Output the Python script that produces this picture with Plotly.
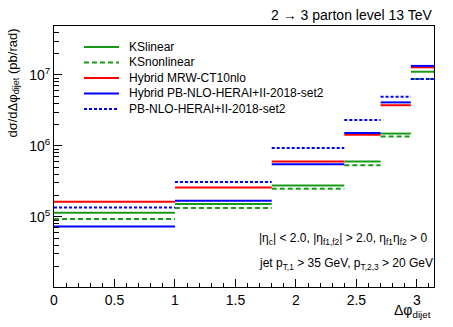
import plotly.graph_objects as go

# ---- data ----
bin_edges = [0.0, 1.0, 1.8, 2.4, 2.7, 2.95, 3.14159265]
series_names = ["KSlinear", "KSnonlinear", "Hybrid MRW-CT10nlo",
                "Hybrid PB-NLO-HERAI+II-2018-set2", "PB-NLO-HERAI+II-2018-set2"]
ks_linear = [1.14e5, 1.51e5, 2.76e5, 6.0e5, 1.49e6, 1.11e7]
ks_nonlinear = [9.3e4, 1.33e5, 2.48e5, 5.35e5, 1.35e6, 8.8e6]
hybrid_mrw = [1.63e5, 2.59e5, 6.0e5, 1.44e6, 3.74e6, 1.28e7]
hybrid_pb = [7.3e4, 1.68e5, 5.5e5, 1.52e6, 4.1e6, 1.34e7]
pb_nlo = [1.35e5, 3.1e5, 9.3e5, 2.32e6, 4.94e6, 8.8e6]
y_major_ticks = [1e5, 1e6, 1e7]
y_major_labels = ["10<sup>5</sup>", "10<sup>6</sup>", "10<sup>7</sup>"]
x_ticks = [0, 0.5, 1, 1.5, 2, 2.5, 3]
x_tick_labels = ["0", "0.5", "1", "1.5", "2", "2.5", "3"]

GREEN = "#1a9a1a"
styles = [
    dict(color=GREEN, width=2, dash="solid"),
    dict(color=GREEN, width=2, dash="5px,3px"),
    dict(color="#ff0000", width=2, dash="solid"),
    dict(color="#0000ff", width=2, dash="solid"),
    dict(color="#0000ff", width=2, dash="3px,2px"),
]
all_series = [ks_linear, ks_nonlinear, hybrid_mrw, hybrid_pb, pb_nlo]

FONT = "Liberation Sans, Arial, Helvetica, sans-serif"

fig = go.Figure()
for name, vals, st in zip(series_names, all_series, styles):
    xs, ys = [], []
    for i, v in enumerate(vals):
        xs += [bin_edges[i], bin_edges[i + 1], None]
        ys += [v, v, None]
    fig.add_trace(go.Scatter(x=xs, y=ys, mode="lines", line=st, name=name,
                             showlegend=False, hoverinfo="skip"))

minor_vals = []
for e in [4, 5, 6, 7]:
    for m in range(2, 10):
        minor_vals.append(m * 10 ** e)

L, R, T, B = 54, 19, 26, 40
W, H = 453, 327
pw, ph = W - L - R, H - T - B

def px(x):
    return (x - L) / pw

def py(y):
    return (H - B - y) / ph

fig.update_layout(
    width=W, height=H,
    margin=dict(l=L, r=R, t=T, b=B, pad=0, autoexpand=False),
    paper_bgcolor="white", plot_bgcolor="white",
    font=dict(family=FONT, size=14, color="black"),
    xaxis=dict(range=[0, 3.14159265], showgrid=False, zeroline=False,
               automargin=False,
               showline=True, linecolor="black", linewidth=1, mirror=True,
               tickmode="array", tickvals=x_ticks, ticktext=x_tick_labels,
               ticks="inside", ticklen=8, tickcolor="black",
               minor=dict(dtick=0.1, tick0=0, ticks="inside", ticklen=4,
                          tickcolor="black", showgrid=False),
               tickfont=dict(size=14)),
    yaxis=dict(type="log", range=[4.01, 7.69], showgrid=False, zeroline=False,
               automargin=False,
               showline=True, linecolor="black", linewidth=1, mirror=True,
               tickmode="array", tickvals=y_major_ticks, ticktext=y_major_labels,
               ticks="inside", ticklen=8, tickcolor="black",
               minor=dict(tickmode="array", tickvals=minor_vals, ticks="inside",
                          ticklen=5, tickcolor="black", showgrid=False),
               tickfont=dict(size=14)),
    showlegend=False,
)

ann = []
ann.append(dict(text="2 \u2192 3 parton level 13 TeV", x=px(435), y=py(15),
                xref="paper", yref="paper", xanchor="right", yanchor="middle",
                showarrow=False, font=dict(size=14)))
ann.append(dict(text="d\u03c3/d\u0394\u03c6<sub>dijet</sub> (pb/rad)", x=px(13), y=py(27),
                xref="paper", yref="paper", xanchor="center", yanchor="top",
                textangle=-90, showarrow=False, font=dict(size=13)))
ann.append(dict(text="\u0394\u03c6<sub>dijet</sub>", x=px(433), y=py(311),
                xref="paper", yref="paper", xanchor="right", yanchor="middle",
                showarrow=False, font=dict(size=14)))
ann.append(dict(text="|\u03b7<sub>c</sub>| < 2.0, |\u03b7<sub>f1,f2</sub>| > 2.0, \u03b7<sub>f1</sub>\u03b7<sub>f2</sub> > 0",
                x=px(257), y=py(239), xref="paper", yref="paper",
                xanchor="left", yanchor="middle", showarrow=False, font=dict(size=12)))
ann.append(dict(text="jet p<sub>T,1</sub> > 35 GeV, p<sub>T,2,3</sub> > 20 GeV",
                x=px(257), y=py(264), xref="paper", yref="paper",
                xanchor="left", yanchor="middle", showarrow=False, font=dict(size=12)))

shapes = []
row_y = [47, 62.5, 78, 93.5, 109]
for name, st, ry in zip(series_names, styles, row_y):
    shapes.append(dict(type="line", xref="paper", yref="paper",
                       x0=px(84), x1=px(119), y0=py(ry), y1=py(ry),
                       line=st))
    ann.append(dict(text=name, x=px(127), y=py(ry), xref="paper", yref="paper",
                    xanchor="left", yanchor="middle", showarrow=False,
                    font=dict(size=12)))

fig.update_layout(annotations=ann, shapes=shapes)
fig.write_html("out.html",
               config={"displayModeBar": False, "staticPlot": True},
               post_script="document.body.style.margin='0';document.body.style.padding='0';")
